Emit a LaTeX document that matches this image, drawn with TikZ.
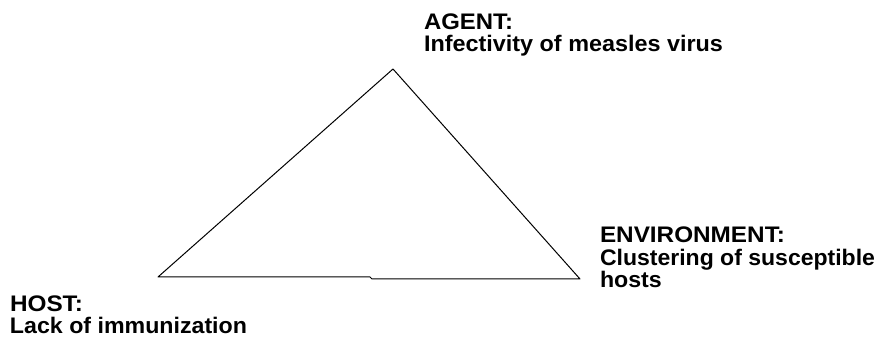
\documentclass[tikz,border=0pt]{standalone}
\usepackage{fontspec}
\usepackage{graphicx}
\setmainfont{Liberation Sans}[FakeStretch=1.03]
\newcommand{\fitto}[2]{\resizebox{#1}{\height}{#2}}
\begin{document}
\begin{tikzpicture}[x=1pt,y=-1pt,
  lbl/.style={anchor=base west,inner sep=0pt,outer sep=0pt,font=\fontsize{22.5pt}{22.5pt}\selectfont\bfseries},
  edge/.style={line width=1pt,line join=round}]
\useasboundingbox[fill=white] (0,0) rectangle (878,344);
\coordinate (A) at (393,69);
\coordinate (H) at (158,277);
\coordinate (E) at (580,279);
\coordinate (k1) at (370,277);
\coordinate (k2) at (372,279);
\draw[edge] (H) -- (A) -- (E) -- (k2) -- (k1) -- cycle;
\node[lbl] (a1) at (424,30) {\fitto{89pt}{AGENT:}};
\node[lbl] (a2) at (424,52) {\fitto{299pt}{Infectivity of measles virus}};
\node[lbl] (e1) at (600,243) {\fitto{185pt}{ENVIRONMENT:}};
\node[lbl] (e2) at (600,266) {\fitto{275pt}{Clustering of susceptible}};
\node[lbl] (e3) at (600,288) {hosts};
\node[lbl] (h1) at (10,312) {\fitto{73pt}{HOST:}};
\node[lbl] (h2) at (10,334) {\fitto{237pt}{Lack of immunization}};
\end{tikzpicture}
\end{document}
